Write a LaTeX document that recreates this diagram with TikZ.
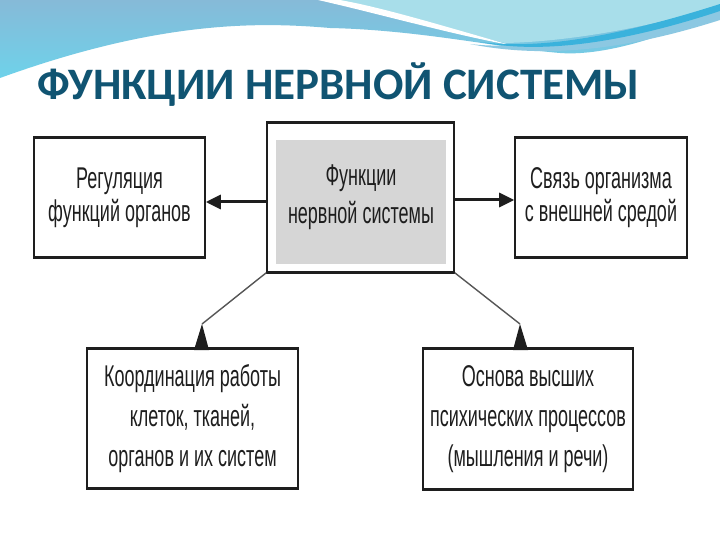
\documentclass[tikz,border=0pt]{standalone}
\usepackage{fontspec}
\setmainfont{Liberation Sans}
\newfontfamily\boxfont[FakeStretch=0.6]{Liberation Sans}
\newfontfamily\titlefont{Carlito}
\usetikzlibrary{arrows.meta}
\definecolor{titleblue}{RGB}{16,84,114}
\definecolor{waveblue}{RGB}{134,186,216}
\definecolor{wavecyan}{RGB}{110,210,234}
\definecolor{aqua}{RGB}{168,222,234}
\definecolor{midblue}{RGB}{140,200,226}
\definecolor{darkstreak}{RGB}{58,178,220}
\definecolor{grayfill}{RGB}{214,214,214}
\definecolor{inkgray}{RGB}{30,30,30}
\tikzset{
  boxnode/.style={draw=inkgray, line width=1.6pt, fill=white, rectangle, inner sep=0pt,
    align=center, text=inkgray},
  toptext/.style={font=\boxfont\fontsize{30}{33}\selectfont},
  centertext/.style={font=\boxfont\fontsize{30}{38}\selectfont},
  bottomtext/.style={font=\boxfont\fontsize{30}{40}\selectfont},
  edgeline/.style={draw=inkgray, line width=3pt},
  mainarrow/.style={draw=inkgray, line width=3pt, -{Triangle[length=15pt,width=14pt]}},
  diagline/.style={draw=inkgray!75, line width=1.4pt},
  tiptri/.style={fill=inkgray}
}
\begin{document}
\begin{tikzpicture}[x=1pt,y=-1pt]
\useasboundingbox (0,0) rectangle (720,540);
\fill[white] (0,0) rectangle (720,540);
% top wave
\shade[top color=waveblue, bottom color=wavecyan]
  (0,0) -- (720,0) -- (720,10)
  .. controls (660,40) and (600,56) .. (560,53)
  .. controls (500,48) and (420,30) .. (330,28)
  .. controls (260,22) and (160,20) .. (0,78) -- cycle;
\fill[aqua] (330,0) -- (720,0) -- (720,6)
  .. controls (640,30) and (560,42) .. (505,43)
  .. controls (450,30) and (380,10) .. (330,0) -- cycle;
\fill[white] (318,0) .. controls (380,14) and (450,34) .. (510,45)
  .. controls (450,28) and (385,8) .. (340,0) -- cycle;
\fill[midblue] (470,44) .. controls (520,50) and (600,40) .. (720,8) -- (720,20)
  .. controls (620,52) and (540,58) .. (470,44) -- cycle;
\fill[darkstreak] (480,42) .. controls (540,50) and (620,36) .. (720,4) -- (720,11)
  .. controls (620,44) and (540,54) .. (480,42) -- cycle;
% title
\node[anchor=base west, inner sep=0pt, text=titleblue,
  font=\titlefont\bfseries\fontsize{45}{49}\selectfont] (title) at (37,100)
  {ФУНКЦИИ НЕРВНОЙ СИСТЕМЫ};
% boxes
\node[boxnode, minimum width=187pt, minimum height=149pt] (center) at (360.5,197.5) {};
\node[fill=grayfill, minimum width=170pt, minimum height=124pt, inner sep=0pt] (gray) at (361,202) {};
\node[centertext, align=center, text=inkgray, inner sep=0pt] (centerlabel) at (361,197)
  {Функции\\нервной системы};
\node[boxnode, toptext, minimum width=171pt, minimum height=119pt] (left) at (119.5,197.5)
  {Регуляция\\функций органов};
\node[boxnode, toptext, minimum width=172pt, minimum height=119pt] (right) at (601,197.5)
  {Связь организма\\с внешней средой};
\node[boxnode, bottomtext, minimum width=211pt, minimum height=139pt] (bl) at (192.5,418.5)
  {Координация работы\\клеток, тканей,\\органов и их систем};
\node[boxnode, bottomtext, minimum width=210pt, minimum height=140pt] (br) at (528,419)
  {Основа высших\\психических процессов\\(мышления и речи)};
% thick top/bottom edges
\foreach \n in {center,left,right,bl,br}{
  \draw[edgeline] (\n.north west) -- (\n.north east);
  \draw[edgeline] (\n.south west) -- (\n.south east);
}
% horizontal arrows
\draw[mainarrow] (center.west |- 0,202) -- (left.east |- 0,202);
\draw[mainarrow] (center.east |- 0,200) -- (right.west |- 0,200);
% diagonal connectors
\coordinate (tipL) at (202,324);
\coordinate (tipR) at (520,324);
\draw[diagline] (center.south west) -- (tipL);
\draw[diagline] (center.south east) -- (tipR);
\fill[tiptri] (tipL) -- (209,350) -- (194,350) -- cycle;
\fill[tiptri] (tipR) -- (528,350) -- (513,350) -- cycle;
\end{tikzpicture}
\end{document}
